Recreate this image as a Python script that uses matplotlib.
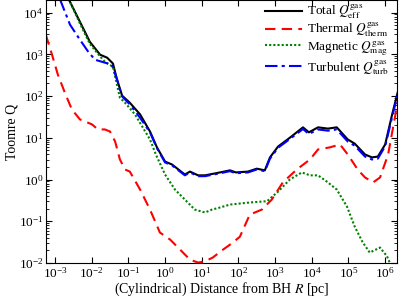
import numpy as np
import matplotlib
matplotlib.use('Agg')
import matplotlib.pyplot as plt

plt.rcParams['font.family'] = ['Liberation Serif', 'DejaVu Serif']
plt.rcParams['mathtext.fontset'] = 'stix'

# log10 of R [pc] and log10 of Q
tot_logr = [-2.75, -2.62, -2.32, -2.05, -1.77, -1.58, -1.42, -1.31, -1.17, -0.96, -0.68,
            -0.41, -0.22, 0.0, 0.19, 0.54, 0.68, 0.90, 1.09, 1.50, 1.77, 1.93, 2.26,
            2.50, 2.72, 2.86, 3.08, 3.40, 3.76, 3.92, 4.17, 4.44, 4.68, 4.98, 5.17,
            5.45, 5.64, 5.80, 6.0, 6.19, 6.35]
tot_logq = [4.6, 4.31, 3.78, 3.30, 2.99, 2.92, 2.78, 2.40, 2.01, 1.84, 1.56,
            1.15, 0.77, 0.43, 0.36, 0.12, 0.19, 0.10, 0.10, 0.17, 0.22, 0.17, 0.19,
            0.26, 0.22, 0.53, 0.79, 1.0, 1.25, 1.13, 1.25, 1.22, 1.25, 0.96, 0.86,
            0.60, 0.53, 0.55, 0.84, 1.56, 2.12]

turb_logr = [-2.95, -2.86, -2.59, -2.32, -2.10, -1.91, -1.64, -1.45, -1.31, -1.17, -0.96,
             -0.68, -0.41, -0.22, 0.0, 0.19, 0.54, 0.68, 0.90, 1.09, 1.50, 1.77, 1.93,
             2.26, 2.50, 2.72, 2.86, 3.08, 3.40, 3.76, 3.92, 4.17, 4.44, 4.68, 4.98,
             5.17, 5.45, 5.64, 5.80, 6.0, 6.19, 6.35]
turb_logq = [4.6, 4.31, 3.71, 3.35, 3.07, 2.87, 2.80, 2.75, 2.40, 1.99, 1.80,
             1.48, 1.13, 0.75, 0.41, 0.34, 0.10, 0.17, 0.08, 0.08, 0.15, 0.20, 0.15,
             0.17, 0.24, 0.20, 0.50, 0.76, 0.97, 1.21, 1.09, 1.20, 1.17, 1.20, 0.91,
             0.81, 0.55, 0.48, 0.50, 0.80, 1.50, 2.08]

mag_logr = [-2.75, -2.62, -2.32, -2.05, -1.77, -1.64, -1.42, -1.23, -1.09, -0.82, -0.41,
            -0.25, 0.0, 0.27, 0.54, 0.81, 1.09, 1.28, 1.50, 1.77, 2.31, 2.78, 3.08,
            3.40, 3.73, 3.95, 4.17, 4.41, 4.68, 4.96, 5.17, 5.39, 5.58, 5.86, 6.05,
            6.13]
mag_logq = [4.6, 4.31, 3.74, 3.25, 2.95, 2.82, 2.70, 1.96, 1.84, 1.56, 0.96,
            0.60, 0.12, -0.24, -0.48, -0.72, -0.79, -0.72, -0.67, -0.60, -0.55, -0.52, -0.29,
            0.0, 0.17, 0.10, 0.10, -0.05, -0.24, -0.65, -1.13, -1.51, -1.75, -1.63, -1.84,
            -2.0]

th_logr = [-3.25, -3.08, -2.92, -2.73, -2.54, -2.32, -2.18, -1.99, -1.83, -1.64, -1.50,
           -1.36, -1.23, -1.09, -0.96, -0.68, -0.41, -0.14, 0.14, 0.41, 0.68, 0.90,
           1.09, 1.30, 1.58, 1.85, 2.04, 2.31, 2.64, 2.91, 3.21, 3.59, 3.95, 4.17,
           4.49, 4.77, 4.98, 5.25, 5.45, 5.67, 5.86, 6.08, 6.35]
th_logq = [3.47, 2.99, 2.51, 2.08, 1.68, 1.44, 1.39, 1.32, 1.20, 1.20, 1.15,
           0.91, 0.48, 0.24, 0.19, -0.24, -0.72, -1.27, -1.44, -1.68, -1.92, -1.99,
           -1.96, -1.87, -1.68, -1.51, -1.37, -0.84, -0.72, -0.48, -0.07, 0.24, 0.48, 0.72,
           0.77, 0.84, 0.60, 0.24, 0.05, -0.07, 0.05, 0.60, 1.90]

labels = [r'Total $Q_{\rm eff}^{\rm gas}$', r'Thermal $Q_{\rm therm}^{\rm gas}$',
          r'Magnetic $Q_{\rm mag}^{\rm gas}$', r'Turbulent $Q_{\rm turb}^{\rm gas}$']

fig = plt.figure(figsize=(3.99, 2.97), dpi=100)
ax = fig.add_axes([0.1153, 0.1145, 0.8797, 0.8855])

ax.plot(10**np.array(tot_logr), 10**np.array(tot_logq), color='k', lw=1.5, label=labels[0])
ax.plot(10**np.array(th_logr), 10**np.array(th_logq), color='r', lw=1.5, ls=(0, (5, 3)), label=labels[1])
ax.plot(10**np.array(mag_logr), 10**np.array(mag_logq), color='g', lw=1.5, ls=(0, (1, 1)), label=labels[2])
ax.plot(10**np.array(turb_logr), 10**np.array(turb_logq), color='b', lw=1.5, ls=(0, (6, 2, 1.5, 2)), label=labels[3])

ax.set_xscale('log')
ax.set_yscale('log')
ax.set_xlim(5.7e-4, 2.1e6)
ax.set_ylim(1e-2, 2e4)
ax.set_xticks([10.0**k for k in range(-3, 7)])
ax.set_yticks([10.0**k for k in range(-2, 5)])
ax.tick_params(which='both', direction='in', top=True, right=True, labelsize=9.5, pad=2)
ax.tick_params(which='major', length=4.5)
ax.tick_params(which='minor', length=2.5)
ax.set_xlabel(r'(Cylindrical) Distance from BH $R$ [pc]', fontsize=10, labelpad=0)
ax.set_ylabel('Toomre Q', fontsize=10, labelpad=0)
ax.legend(loc='upper right', frameon=False, fontsize=9.5, handlelength=2.8,
          handletextpad=0.4, labelspacing=0.0, borderaxespad=0.2,
          bbox_to_anchor=(1.0, 1.02))

fig.savefig('out.png', dpi=100)
